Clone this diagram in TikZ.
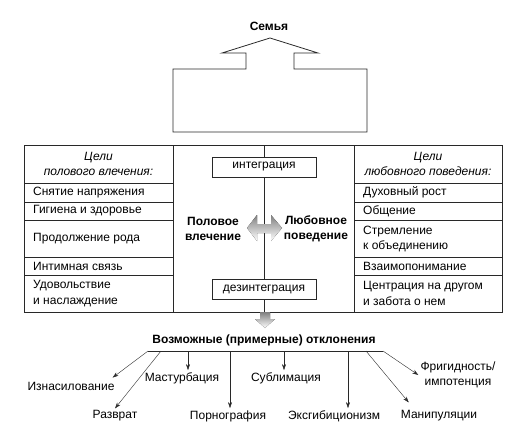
\documentclass[tikz,border=0pt]{standalone}
\usepackage{fontspec}
\setmainfont{Liberation Sans}
\usetikzlibrary{arrows.meta,positioning,calc}
\definecolor{frame}{RGB}{40,40,40}
\definecolor{shade}{RGB}{160,160,160}

\begin{document}
\begin{tikzpicture}[x=1pt,y=-1pt,font=\fontsize{12}{15.5}\selectfont,
  cell/.style={anchor=west,align=left,inner sep=0pt},
  head/.style={align=center,font=\fontsize{12}{15}\selectfont\itshape},
  stage/.style={draw=frame,thick,fill=white,minimum width=104pt,minimum height=20pt,inner sep=0pt},
  leaf/.style={align=center,inner sep=2pt},
  dev/.style={frame,-{Stealth[length=6pt,width=4pt]}}]
\useasboundingbox (0,0) rectangle (522,434);
% family arrow
\node[font=\fontsize{12}{15}\selectfont\bfseries] (family) at (269,26) {Семья};
\draw[frame,thick] (173,69) -- (246,69) -- (246,53) -- (222,53) -- (270,38) -- (318,53)
  -- (294,53) -- (294,69) -- (367,69) -- (367,132) -- (173,132) -- cycle;
% table
\draw[frame,thick] (24,145) rectangle (502,312);
\draw[frame,thick] (173,145) -- (173,312) (354,145) -- (354,312);
\foreach \y in {183,202,220.5,257.5,275}{
  \draw[frame,thick] (24,\y) -- (173,\y) (354,\y) -- (502,\y);
}
\node[head] (lhead) at (98.5,164) {Цели\\полового влечения:};
\node[head] (rhead) at (428,164) {Цели\\любовного поведения:};
\node[cell] (l1) at (33,192.5) {Снятие напряжения};
\node[cell] (l2) at (33,211) {Гигиена и здоровье};
\node[cell] (l3) at (33,239) {Продолжение рода};
\node[cell] (l4) at (33,266.5) {Интимная связь};
\node[cell] (l5) at (33,293.5) {Удовольствие\\и наслаждение};
\node[cell] (r1) at (363,192.5) {Духовный рост};
\node[cell] (r2) at (363,211) {Общение};
\node[cell] (r3) at (363,239) {Стремление\\к объединению};
\node[cell] (r4) at (363,266.5) {Взаимопонимание};
\node[cell] (r5) at (363,293.5) {Центрация на другом\\и забота о нем};
% middle column
\node[stage] (integr) at (264,167) {интеграция};
\node[stage] (desintegr) at (264,289.5) {дезинтеграция};
\draw[frame,thick] (264,145) -- (integr) -- (desintegr) -- (264,312);
\node[align=center,font=\fontsize{12}{15}\selectfont\bfseries] (sexual) at (213,229) {Половое\\влечение};
\node[align=center,font=\fontsize{12}{15}\selectfont\bfseries] (love) at (316,229) {Любовное\\поведение};
\fill[shade] (247,228) -- (257,215) -- (257,224) -- (271,224) -- (271,215) -- (282,228)
  -- (271,241) -- (271,233) -- (257,233) -- (257,241) -- cycle;
\fill[shade] (260,312) -- (270,312) -- (270,319) -- (275,319) -- (265,328) -- (255,319) -- (260,319) -- cycle;
% deviations
\node[font=\fontsize{12}{15}\selectfont\bfseries] (devs) at (264,340) {Возможные (примерные) отклонения};
\draw[frame,thick] (148,351) -- (383,351);
\coordinate (b1) at (148,351);
\coordinate (b2) at (161,351);
\coordinate (b3) at (188,351);
\coordinate (b4) at (230,351);
\coordinate (b5) at (284,351);
\coordinate (b6) at (348,351);
\coordinate (b7) at (366,351);
\coordinate (b8) at (383,351);
\node[leaf] (rape) at (71,386) {Изнасилование};
\node[leaf] (lust) at (115,416) {Разврат};
\node[leaf] (mast) at (182,378) {Мастурбация};
\node[leaf] (porn) at (228,416) {Порнография};
\node[leaf] (subl) at (286,378) {Сублимация};
\node[leaf] (exhib) at (334,416) {Эксгибиционизм};
\node[leaf] (manip) at (439,416) {Манипуляции};
\node[leaf] (frig) at (458,375) {Фригидность/\\импотенция};
\draw[dev] (b1) -- ($(rape.north east)+(-4,-2)$);
\draw[dev] (b2) -- (lust.north);
\draw[dev] (b3) -- (b3 |- mast.north);
\draw[dev] (b4) -- (b4 |- porn.north);
\draw[dev] (b5) -- (b5 |- subl.north);
\draw[dev] (b6) -- (b6 |- exhib.north);
\draw[dev] (b7) -- ($(manip.north west)+(10,-6)$);
\draw[dev] (b8) -- (frig.west);
\end{tikzpicture}
\end{document}
